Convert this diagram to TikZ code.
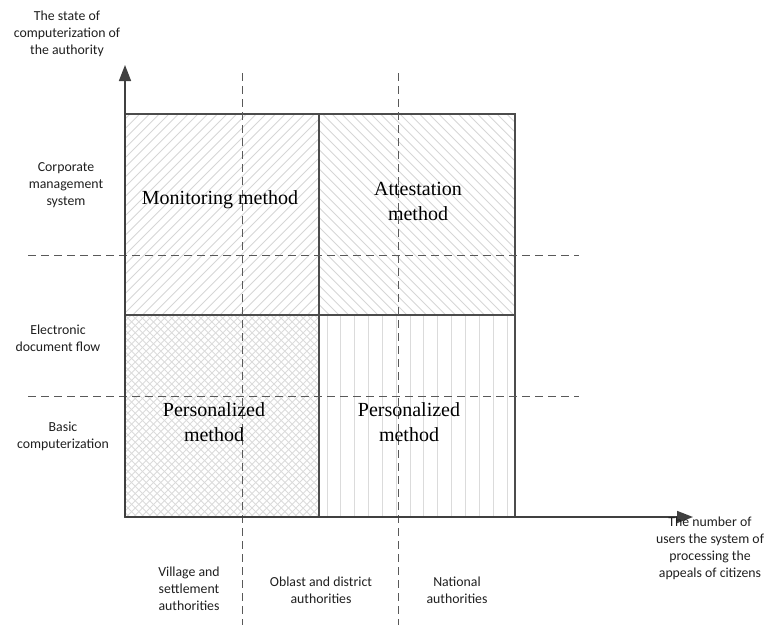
\documentclass[tikz,border=0pt]{standalone}
\usepackage{fontspec}
\setmainfont{Liberation Serif}
\newfontfamily\lblfont{Carlito}
\usetikzlibrary{arrows.meta}
\begin{document}
\begin{tikzpicture}[x=1pt,y=-1pt,
  hatch/.style={draw=black!16, line width=0.9pt},
  xhatch/.style={draw=black!14, line width=0.9pt},
  vhatch/.style={draw=black!14, line width=1pt},
  boxline/.style={draw=black!70, line width=1.4pt},
  guide/.style={draw=black!65, line width=1pt, dash pattern=on 8pt off 5pt},
  axis/.style={draw=black!75, line width=1.5pt, -{Triangle[length=16pt,width=12pt]}},
  lbl/.style={font=\lblfont\fontsize{13.8}{17}\selectfont, align=center, text=black!88, inner sep=0pt},
  meth/.style={font=\fontsize{20}{25}\selectfont, align=center, inner sep=0pt}]
\useasboundingbox (0,0) rectangle (766,625);

% corner coordinates of the quadrants
\coordinate (TL) at (125,114);
\coordinate (TM) at (319,114);
\coordinate (TR) at (515,114);
\coordinate (ML) at (125,315);
\coordinate (MM) at (319,315);
\coordinate (MR) at (515,315);
\coordinate (BL) at (125,517);
\coordinate (BM) at (319,517);
\coordinate (BR) at (515,517);

% hatching: top-left (north east lines)
\begin{scope}
  \clip (TL) rectangle (MM);
  \foreach \a in {-100,-90.3,...,330} \draw[hatch] (\a,315) -- ++(210,-210);
\end{scope}
% hatching: top-right (north west lines)
\begin{scope}
  \clip (TM) rectangle (MR);
  \foreach \a in {310,319.7,...,760} \draw[hatch] (\a,315) -- ++(-210,-210);
\end{scope}
% hatching: bottom-left (crosshatch)
\begin{scope}
  \clip (ML) rectangle (BM);
  \foreach \a in {-100,-92.7,...,330} \draw[xhatch] (\a,517) -- ++(210,-210);
  \foreach \a in {115,122.3,...,540} \draw[xhatch] (\a,517) -- ++(-210,-210);
\end{scope}
% hatching: bottom-right (vertical lines)
\begin{scope}
  \clip (MM) rectangle (BR);
  \foreach \a in {327,340.85,...,512} \draw[vhatch] (\a,315) -- (\a,517);
\end{scope}

% quadrant outlines
\draw[boxline] (TL) rectangle (BR);
\draw[boxline] (TM) -- (BM);
\draw[boxline] (ML) -- (MR);

% dashed guide lines
\coordinate (v1a) at (242,73);  \coordinate (v1b) at (242,625);
\coordinate (v2a) at (398,73);  \coordinate (v2b) at (398,625);
\coordinate (h1a) at (28,255);  \coordinate (h1b) at (579,255);
\coordinate (h2a) at (28,396);  \coordinate (h2b) at (579,396);
\draw[guide] (v1a) -- (v1b);
\draw[guide] (v2a) -- (v2b);
\draw[guide] (h1a) -- (h1b);
\draw[guide] (h2a) -- (h2b);

% axes
\coordinate (ytip) at (125,65);
\coordinate (xtip) at (693,517);
\draw[axis] (BL) -- (ytip);
\draw[axis] (BL) -- (xtip);

% method labels
\node[meth] (mon) at (220,200) {Monitoring method};
\node[meth] (att) at (418,201) {Attestation\\method};
\node[meth] (per1) at (214,422) {Personalized\\method};
\node[meth] (per2) at (409,422) {Personalized\\method};

% axis and level labels
\node[lbl] (ylab) at (67,34) {The state of\\computerization of\\the authority};
\node[lbl] (corp) at (66,185) {Corporate\\management\\system};
\node[lbl] (edf) at (58,338) {Electronic\\document flow};
\node[lbl] (basic) at (63,436) {Basic\\computerization};
\node[lbl] (xlab) at (710,548) {The number of\\users the system of\\processing the\\appeals of citizens};
\node[lbl] (vill) at (189,589) {Village and\\settlement\\authorities};
\node[lbl] (obl) at (321,590) {Oblast and district\\authorities};
\node[lbl] (nat) at (457,590) {National\\authorities};
\end{tikzpicture}
\end{document}
